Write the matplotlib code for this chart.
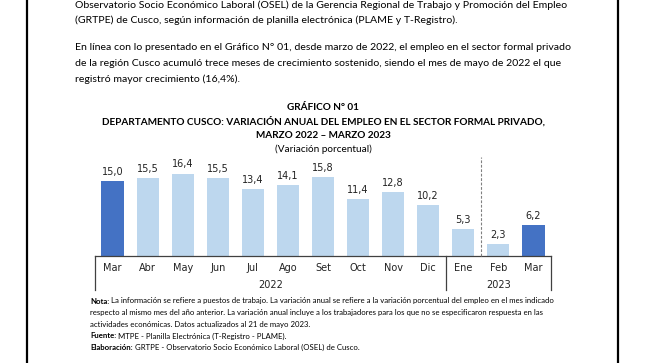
import matplotlib
matplotlib.use('Agg')
import matplotlib.pyplot as plt

# data
months = ['Mar', 'Abr', 'May', 'Jun', 'Jul', 'Ago', 'Set', 'Oct', 'Nov', 'Dic',
          'Ene', 'Feb', 'Mar']
values = [15.0, 15.5, 16.4, 15.5, 13.4, 14.1, 15.8, 11.4, 12.8, 10.2, 5.3, 2.3, 6.2]
highlight = [True] + [False] * 11 + [True]
years = ['2022', '2023']

para_lines = [
    'Observatorio Socio Económico Laboral (OSEL) de la Gerencia Regional de Trabajo y Promoción del Empleo',
    '(GRTPE) de Cusco, según información de planilla electrónica (PLAME y T-Registro).',
    'En línea con lo presentado en el Gráfico N° 01, desde marzo de 2022, el empleo en el sector formal privado',
    'de la región Cusco acumuló trece meses de crecimiento sostenido, siendo el mes de mayo de 2022 el que',
    'registró mayor crecimiento (16,4%).',
]
title_lines = [
    'GRÁFICO N° 01',
    'DEPARTAMENTO CUSCO: VARIACIÓN ANUAL DEL EMPLEO EN EL SECTOR FORMAL PRIVADO,',
    'MARZO 2022 – MARZO 2023',
]
subtitle = '(Variación porcentual)'
notes = [
    ('Nota:', ' La información se refiere a puestos de trabajo. La variación anual se refiere a la variación porcentual del empleo en el mes indicado'),
    ('', 'respecto al mismo mes del año anterior. La variación anual incluye a los trabajadores para los que no se especificaron respuesta en las'),
    ('', 'actividades económicas. Datos actualizados al 21 de mayo 2023.'),
    ('Fuente:', ' MTPE - Planilla Electrónica (T-Registro - PLAME).'),
    ('Elaboración:', ' GRTPE - Observatorio Socio Económico Laboral (OSEL) de Cusco.'),
]

W, H = 645, 363
DARK = '#4472C4'
LIGHT = '#BDD7EE'
LINE = '#404040'
FONT = 'Lato'

fig = plt.figure(figsize=(W / 100, H / 100), dpi=100)
renderer = fig.canvas.get_renderer()


def fx(px):
    return px / W


def fy(py):
    return 1 - py / H


def fit_size(text, width, weight='normal'):
    t = fig.text(0, 0, text, fontsize=10, family=FONT, weight=weight)
    w = t.get_window_extent(renderer).width
    t.remove()
    return 10 * width / w


# page frame
for xpx in (27, 618):
    fig.add_artist(plt.Line2D([fx(xpx), fx(xpx)], [0, 1], color='black', lw=1.6))

# paragraphs
para_size = fit_size(para_lines[0], 488)
for text, ypx in zip(para_lines, [5, 20, 47, 63, 79]):
    fig.text(fx(75), fy(ypx), text, fontsize=para_size, family=FONT,
             va='center', ha='left')

# chart titles
title_size = fit_size(title_lines[1], 446, weight='bold')
for text, ypx in zip(title_lines, [107, 121, 135]):
    fig.text(fx(323), fy(ypx), text, fontsize=title_size, family=FONT,
             weight='bold', va='center', ha='center')
fig.text(fx(323), fy(149), subtitle, fontsize=title_size, family=FONT,
         va='center', ha='center')

# bar chart
px_per_unit = 5.03
ymax = 20.0
base_px = 256
left_px, right_px = 95, 551
top_px = base_px - ymax * px_per_unit
ax = fig.add_axes([fx(left_px), fy(base_px), (right_px - left_px) / W,
                   (base_px - top_px) / H])
ax.set_xlim(-0.5, len(months) - 0.5)
ax.set_ylim(0, ymax)
ax.axis('off')

xs = list(range(len(months)))
colors = [DARK if h else LIGHT for h in highlight]
ax.bar(xs, values, width=0.63, color=colors)

for x, v in zip(xs, values):
    ax.text(x, v + 0.8, f'{v:.1f}'.replace('.', ','), ha='center', va='bottom',
            fontsize=7, family='DejaVu Sans', color='#222222')

# category axis
below = 34 / px_per_unit
ax.plot([-0.5, len(months) - 0.5], [0, 0], color=LINE, lw=0.9, clip_on=False)
for xv in (-0.5, 9.5, len(months) - 0.5):
    ax.plot([xv, xv], [0, -below], color=LINE, lw=0.9, clip_on=False)
ax.plot([10.5, 10.5], [0, 19.7], color='#808080', lw=0.8, ls=(0, (2.5, 1.5)),
        clip_on=False)

for x, m in zip(xs, months):
    ax.text(x, -12 / px_per_unit, m, ha='center', va='center', fontsize=7,
            family='DejaVu Sans', color='#222222')
ax.text(4.5, -29 / px_per_unit, years[0], ha='center', va='center', fontsize=7,
        family='DejaVu Sans', color='#222222')
ax.text(11, -29 / px_per_unit, years[1], ha='center', va='center', fontsize=7,
        family='DejaVu Sans', color='#222222')

# notes
note_size = fit_size(notes[0][0] + notes[0][1], 466)
for (bold, rest), ypx in zip(notes, [301, 313, 324, 336, 347]):
    x0 = fx(90)
    if bold:
        tb = fig.text(x0, fy(ypx), bold, fontsize=note_size, family=FONT,
                      weight='bold', va='center', ha='left')
        x0 += tb.get_window_extent(renderer).width / W
    fig.text(x0, fy(ypx), rest, fontsize=note_size, family=FONT,
             va='center', ha='left')

fig.savefig('out.png', dpi=100)
